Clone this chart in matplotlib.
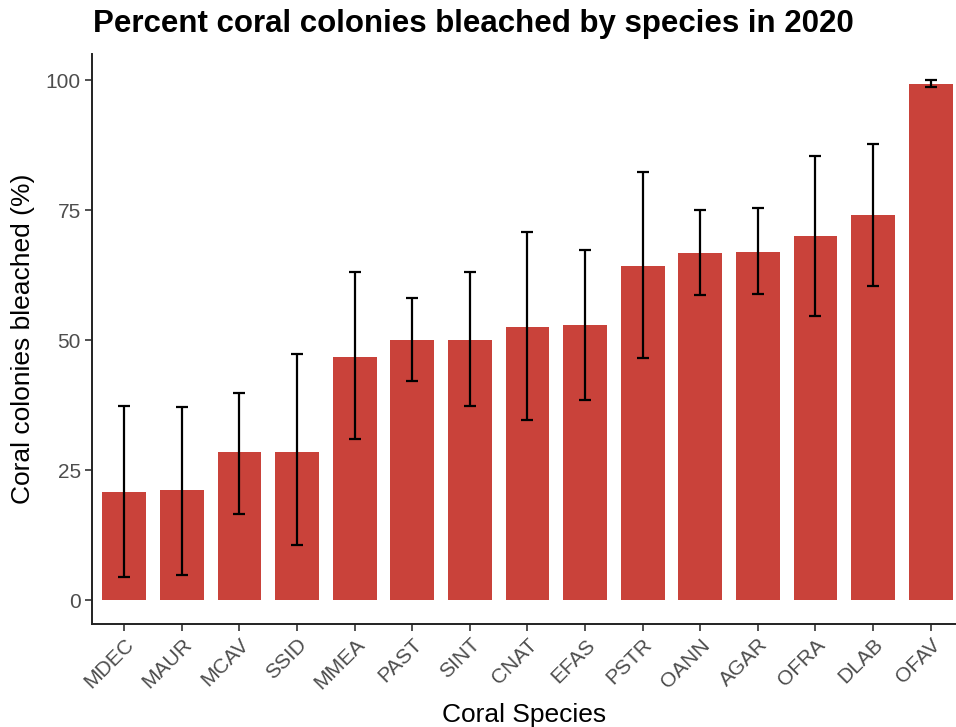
import matplotlib
matplotlib.use("Agg")
import matplotlib.pyplot as plt
import numpy as np

species = ["MDEC", "MAUR", "MCAV", "SSID", "MMEA", "PAST", "SINT", "CNAT",
           "EFAS", "PSTR", "OANN", "AGAR", "OFRA", "DLAB", "OFAV"]
pct_bleached = [20.8, 21.2, 28.5, 28.5, 46.7, 50.0, 50.0, 52.5,
                52.9, 64.2, 66.7, 66.9, 70.0, 74.0, 99.2]
err_upper = [37.3, 37.1, 39.8, 47.3, 63.1, 58.1, 63.1, 70.8,
             67.3, 82.3, 75.0, 75.4, 85.4, 87.7, 100.0]
err_lower = [4.4, 4.8, 16.5, 10.6, 31.0, 42.1, 37.3, 34.6,
             38.5, 46.5, 58.7, 58.8, 54.6, 60.4, 98.7]

plt.rcParams['font.family'] = ['Liberation Sans', 'DejaVu Sans']

fig = plt.figure(figsize=(9.56, 7.27), dpi=100)
ax = fig.add_axes([0.0962, 0.1417, 0.9038, 0.784])

x = np.arange(len(species))
vals = np.array(pct_bleached)
yerr = np.vstack([vals - np.array(err_lower), np.array(err_upper) - vals])
ax.bar(x, vals, width=0.76, color='#C9423A', zorder=2)
ax.errorbar(x, vals, yerr=yerr, fmt='none', ecolor='black', elinewidth=1.6,
            capsize=4.2, capthick=1.6, zorder=3)

ax.set_xlim(-0.56, 14.44)
ax.set_ylim(-4.6, 105)
ax.set_yticks([0, 25, 50, 75, 100])
ax.set_xticks(x)
ax.set_xticklabels(species, rotation=45, ha='right', rotation_mode='anchor')
ax.tick_params(axis='both', colors='#333333', labelcolor='#4D4D4D', labelsize=15,
               length=5, width=1.2, pad=3)
for s in ['top', 'right']:
    ax.spines[s].set_visible(False)
for s in ['left', 'bottom']:
    ax.spines[s].set_linewidth(1.4)
    ax.spines[s].set_color('#222222')

ax.set_xlabel("Coral Species", fontsize=19, labelpad=7)
ax.set_ylabel("Coral colonies bleached (%)", fontsize=19, labelpad=8)
fig.text(0.097, 0.967, "Percent coral colonies bleached by species in 2020",
         fontsize=22.5, fontweight='bold', ha='left', va='center')

fig.savefig("out.png", dpi=100)
